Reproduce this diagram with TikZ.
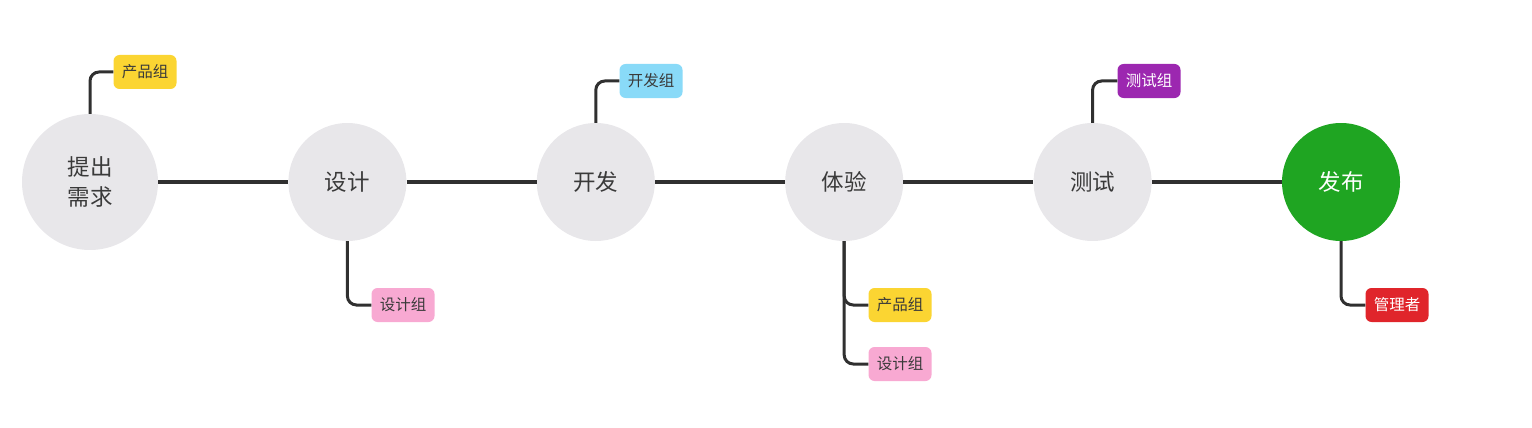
\documentclass[tikz,border=0pt]{standalone}
\usepackage{fontspec}
\setmainfont{Noto Sans CJK SC}
\usetikzlibrary{positioning}
\definecolor{stagegray}{HTML}{E8E7EA}
\definecolor{textgray}{HTML}{3A3A3A}
\definecolor{linegray}{HTML}{303030}
\definecolor{doneGreen}{HTML}{1FA522}
\definecolor{tagYellow}{HTML}{FBD532}
\definecolor{tagPink}{HTML}{F8A9D2}
\definecolor{tagBlue}{HTML}{89DAF8}
\definecolor{tagPurple}{HTML}{9C27B0}
\definecolor{tagRed}{HTML}{E0252B}
\tikzstyle{stage} = [circle, fill=stagegray, text=textgray, font=\fontsize{22.5}{30}\selectfont, align=center, minimum size=118pt, inner sep=0pt]
\tikzstyle{bigstage} = [stage, minimum size=136pt]
\tikzstyle{tag} = [rectangle, rounded corners=6pt, minimum width=63pt, minimum height=34pt, inner sep=0pt, font=\fontsize{15.5}{18}\selectfont, text=textgray]
\tikzstyle{mainline} = [line width=4pt, draw=linegray]
\tikzstyle{branch} = [line width=3pt, draw=linegray, rounded corners=9pt]

\begin{document}
\begin{tikzpicture}[x=1pt, y=-1pt, node distance=130pt]
\useasboundingbox (0,0) rectangle (1532,428);

\node (ask) [bigstage] at (90,182) {提出\\需求};
\node (design) [stage, right=of ask] {设计};
\node (dev) [stage, right=of design] {开发};
\node (review) [stage, right=of dev] {体验};
\node (test) [stage, right=of review] {测试};
\node (release) [stage, right=of test, fill=doneGreen, text=white] {发布};

\node (askteam) [tag, fill=tagYellow] at (145,72) {产品组};
\node (designteam) [tag, fill=tagPink] at (403,305) {设计组};
\node (devteam) [tag, fill=tagBlue] at (651,81) {开发组};
\node (reviewprod) [tag, fill=tagYellow] at (900,305) {产品组};
\node (reviewdesign) [tag, fill=tagPink] at (900,364) {设计组};
\node (testteam) [tag, fill=tagPurple, text=white] at (1149,81) {测试组};
\node (admin) [tag, fill=tagRed, text=white] at (1397,305) {管理者};

\draw [mainline] (ask) -- (design);
\draw [mainline] (design) -- (dev);
\draw [mainline] (dev) -- (review);
\draw [mainline] (review) -- (test);
\draw [mainline] (test) -- (release);

\draw [branch] (ask.north) |- (askteam.west);
\draw [branch] (design.south) |- (designteam.west);
\draw [branch] (dev.north) |- (devteam.west);
\draw [branch] (review.south) |- (reviewprod.west);
\draw [branch] (review.south) |- (reviewdesign.west);
\draw [branch] (test.north) |- (testteam.west);
\draw [branch] (release.south) |- (admin.west);

\end{tikzpicture}
\end{document}
